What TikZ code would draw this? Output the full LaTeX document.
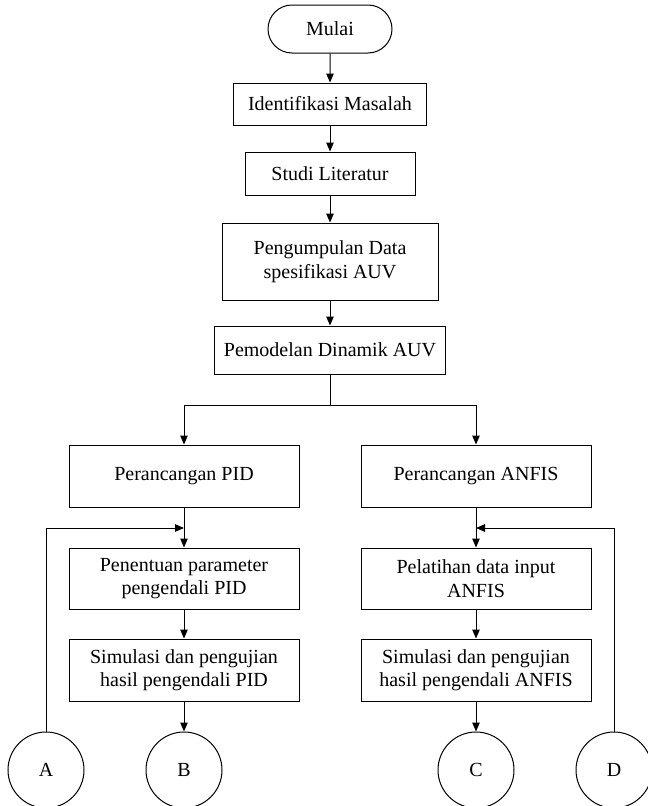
\documentclass[tikz,border=0pt]{standalone}
\usepackage{fontspec}
\setmainfont{Liberation Serif}
\usetikzlibrary{arrows.meta,shapes.misc}
\begin{document}
\begin{tikzpicture}[x=1pt,y=1pt,
  box/.style={draw, line width=1pt, rectangle, align=center, inner sep=0pt,
    font=\fontsize{20}{23.5}\selectfont},
  term/.style={draw, line width=1pt, rounded rectangle, inner sep=0pt,
    minimum width=124pt, minimum height=48pt, font=\fontsize{20}{23.5}\selectfont},
  conn/.style={draw, line width=1pt, circle, inner sep=0pt, minimum size=76pt,
    font=\fontsize{20}{23.5}\selectfont},
  arr/.style={line width=1pt, -{Triangle[length=9pt,width=7.5pt]}},
  ln/.style={line width=1pt}]
\useasboundingbox (0,0) rectangle (648,-806);

\node[term] (mulai) at (330,-29) {Mulai};
\node[box, minimum width=193pt, minimum height=42pt] (ident) at (330,-104) {Identifikasi Masalah};
\node[box, minimum width=170pt, minimum height=43pt] (studi) at (330,-173.5) {Studi Literatur};
\node[box, minimum width=216pt, minimum height=77pt] (kumpul) at (330,-261.5) {Pengumpulan Data\\spesifikasi AUV};
\node[box, minimum width=231pt, minimum height=48pt] (model) at (330,-350) {Pemodelan Dinamik AUV};

\node[box, minimum width=230pt, minimum height=62pt] (pid) at (184,-476) {Perancangan PID};
\node[box, minimum width=230pt, minimum height=62pt] (anfis) at (476,-476) {Perancangan ANFIS};

\node[box, minimum width=230pt, minimum height=61pt] (pen) at (184,-578.5) {Penentuan parameter\\pengendali PID};
\node[box, minimum width=230pt, minimum height=62pt] (simp) at (184,-670) {Simulasi dan pengujian\\hasil pengendali PID};

\node[box, minimum width=230pt, minimum height=61pt] (lat) at (476,-578.5) {Pelatihan data input\\ANFIS};
\node[box, minimum width=230pt, minimum height=62pt] (sima) at (476,-670) {Simulasi dan pengujian\\hasil pengendali ANFIS};

\node[conn] (A) at (46,-770) {A};
\node[conn] (B) at (184,-770) {B};
\node[conn] (C) at (476,-770) {C};
\node[conn] (D) at (614,-770) {D};

\coordinate (split) at (330,-405);
\coordinate (fl) at (184,-528);
\coordinate (fr) at (476,-528);

\draw[arr] (mulai) -- (ident);
\draw[arr] (ident) -- (studi);
\draw[arr] (studi) -- (kumpul);
\draw[arr] (kumpul) -- (model);
\draw[ln] (model) -- (split);
\draw[arr] (split) -| (pid);
\draw[arr] (split) -| (anfis);

\draw[arr] (pid) -- (pen);
\draw[arr] (pen) -- (simp);
\draw[arr] (simp) -- (B);
\draw[arr] (A.north) |- (fl);

\draw[arr] (anfis) -- (lat);
\draw[arr] (lat) -- (sima);
\draw[arr] (sima) -- (C);
\draw[arr] (D.north) |- (fr);
\end{tikzpicture}
\end{document}
